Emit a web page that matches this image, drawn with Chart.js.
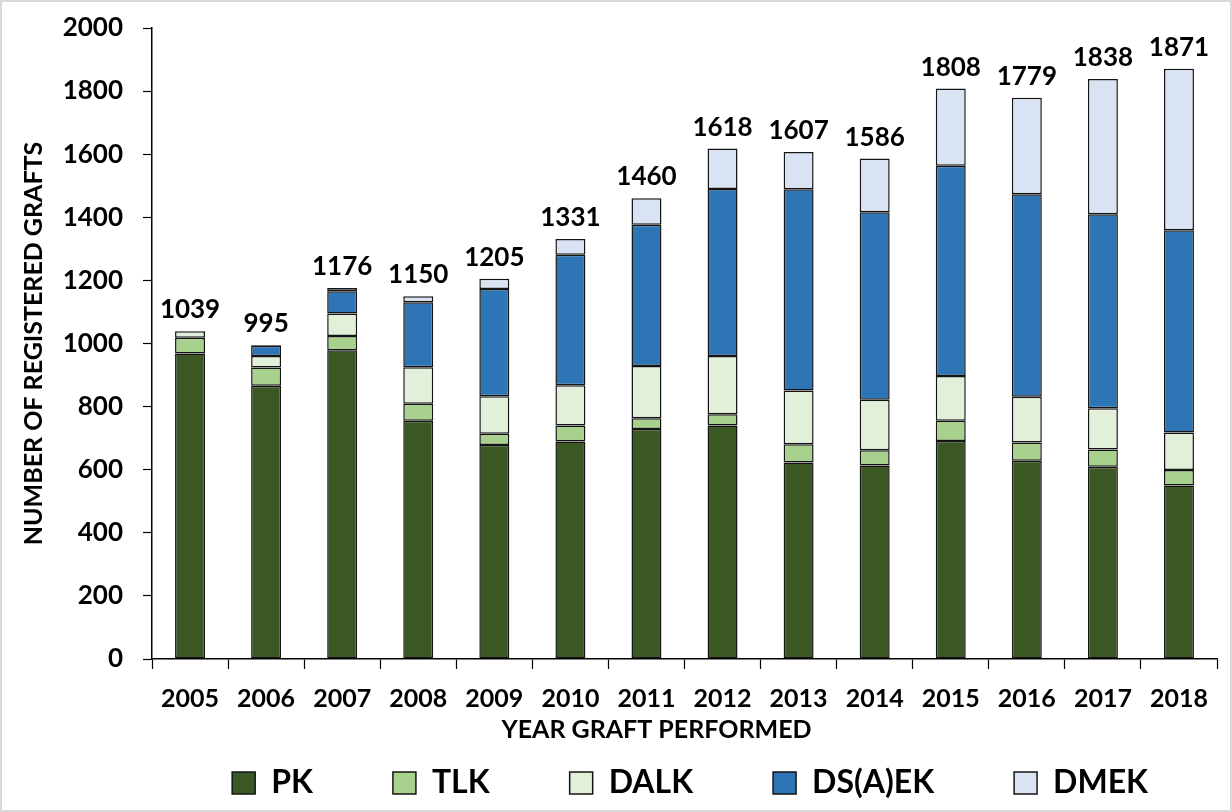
<!DOCTYPE html>
<html>
<head>
<meta charset="utf-8">
<script src="https://cdn.jsdelivr.net/npm/chart.js@4.4.0/dist/chart.umd.min.js"></script>
<style>
    body { margin: 0; background: #ffffff; }
    #wrap { width: 1232px; height: 812px; }
</style>
</head>
<body>
<div id="wrap"><canvas id="myChart" width="1232" height="812"></canvas></div>
<script>
// categories
var years = ["2005", "2006", "2007", "2008", "2009", "2010", "2011", "2012", "2013", "2014", "2015", "2016", "2017", "2018"];

// series values (number of grafts per type)
var pk    = [968, 866, 979, 755, 678, 689, 729, 740, 623, 613, 691, 628, 609, 550];
var tlk   = [50, 58, 45, 54, 36, 51, 34, 36, 58, 49, 64, 58, 55, 49];
var dalk  = [21, 36, 71, 116, 119, 128, 166, 184, 170, 160, 142, 145, 131, 119];
var dsaek = [0, 33, 71, 206, 340, 413, 447, 530, 638, 594, 666, 642, 615, 641];
var dmek  = [0, 2, 10, 19, 32, 50, 84, 128, 118, 170, 245, 306, 428, 512];

// y axis ticks
var yMin = 0, yMax = 2000, yStep = 200;

var FONT = "Lato, 'Open Sans', sans-serif";

// totals on top of each stacked bar
var totalLabels = {
    id: 'totalLabels',
    afterDatasetsDraw: function (chart) {
        var ctx = chart.ctx;
        var last = chart.getDatasetMeta(chart.data.datasets.length - 1);
        ctx.save();
        ctx.font = "bold 26px " + FONT;
        ctx.fillStyle = "#000000";
        ctx.textAlign = "center";
        ctx.textBaseline = "alphabetic";
        years.forEach(function (y, i) {
            var total = pk[i] + tlk[i] + dalk[i] + dsaek[i] + dmek[i];
            var el = last.data[i];
            ctx.fillText(String(total), el.x, el.y - 13);
        });
        ctx.restore();
    }
};

// x axis title (sits a bit left of centre in the original)
var xTitle = {
    id: 'xTitle',
    afterDraw: function (chart) {
        var ctx = chart.ctx;
        var a = chart.chartArea;
        ctx.save();
        ctx.font = "bold 25px " + FONT;
        ctx.fillStyle = "#000000";
        ctx.textAlign = "center";
        ctx.textBaseline = "middle";
        ctx.fillText("YEAR GRAFT PERFORMED", (a.left + a.right) / 2 - 28, a.bottom + 71);
        ctx.restore();
    }
};

// let the x labels show below the squeezed axis box, nudge legend right
var fixLayout = {
    id: 'fixLayout',
    afterLayout: function (chart) {
        chart.scales.x.bottom = chart.height;
        chart.legend.left += 11;
        chart.legend.right += 11;
    }
};

// thin grey frame round the picture
var frame = {
    id: 'frame',
    beforeDraw: function (chart) {
        var ctx = chart.ctx;
        ctx.save();
        ctx.fillStyle = "#ffffff";
        ctx.fillRect(0, 0, chart.width, chart.height);
        ctx.strokeStyle = "#d9d9d9";
        ctx.lineWidth = 2;
        ctx.strokeRect(1, 1, chart.width - 2, chart.height - 2);
        ctx.restore();
    }
};

function ds(label, data, color) {
    return {
        label: label,
        data: data,
        backgroundColor: color,
        borderColor: "#141414",
        borderWidth: 1.5,
        borderSkipped: false,
        categoryPercentage: 1.0,
        barPercentage: 0.394
    };
}

var ctx = document.getElementById("myChart").getContext("2d");
var chart = new Chart(ctx, {
    type: "bar",
    data: {
        labels: years,
        datasets: [
            ds("PK", pk, "#3A5724"),
            ds("TLK", tlk, "#A9D18E"),
            ds("DALK", dalk, "#E2F0D9"),
            ds("DS(A)EK", dsaek, "#2E75B6"),
            ds("DMEK", dmek, "#DAE3F3")
        ]
    },
    options: {
        responsive: false,
        animation: false,
        layout: {
            padding: { top: 28, right: 15, bottom: 3, left: 0 }
        },
        plugins: {
            tooltip: { enabled: false },
            legend: {
                position: "bottom",
                align: "end",
                labels: {
                    font: { family: FONT, size: 32, weight: "bold" },
                    color: "#000000",
                    boxWidth: 23,
                    boxHeight: 22,
                    padding: 80
                }
            }
        },
        scales: {
            x: {
                stacked: true,
                afterFit: function (scale) { scale.height = 28; },
                grid: {
                    drawOnChartArea: false,
                    drawTicks: true,
                    tickLength: 10,
                    tickColor: "#000000",
                    tickWidth: 1.2
                },
                border: { display: true, color: "#000000", width: 1.5 },
                ticks: {
                    color: "#000000",
                    padding: 15,
                    maxRotation: 0,
                    autoSkip: false,
                    font: { family: FONT, size: 25, weight: "bold" }
                }
            },
            y: {
                stacked: true,
                min: yMin,
                max: yMax,
                afterFit: function (scale) {
                    scale.width = 152;
                    scale.paddingTop = 0;
                    scale.paddingBottom = 0;
                },
                grid: {
                    drawOnChartArea: false,
                    drawTicks: true,
                    tickLength: 9,
                    tickColor: "#000000",
                    tickWidth: 1.2
                },
                border: { display: true, color: "#000000", width: 1.5 },
                ticks: {
                    stepSize: yStep,
                    color: "#000000",
                    padding: 20,
                    font: { family: FONT, size: 26, weight: "bold" },
                    callback: function (value) { return String(value); }
                },
                title: {
                    display: true,
                    text: "NUMBER OF REGISTERED GRAFTS",
                    color: "#000000",
                    padding: { top: 19, bottom: 0 },
                    font: { family: FONT, size: 25, weight: "bold" }
                }
            }
        }
    },
    plugins: [frame, fixLayout, totalLabels, xTitle]
});
</script>
</body>
</html>
